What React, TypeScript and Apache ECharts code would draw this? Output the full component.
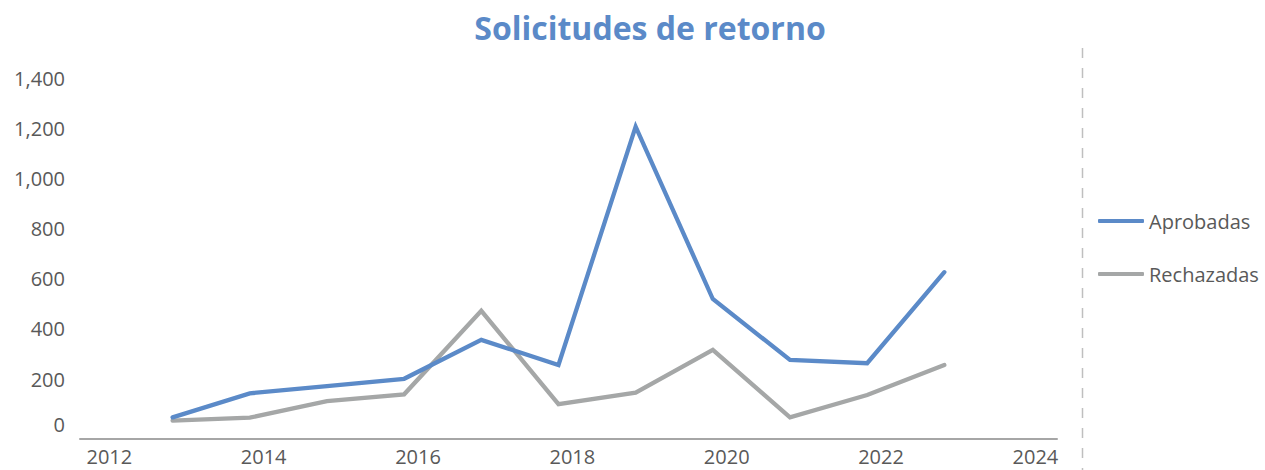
import React, { useEffect, useRef } from "react";
import * as echarts from "echarts";

const years = [2012.82, 2013.82, 2014.82, 2015.82, 2016.82, 2017.82, 2018.82, 2019.82, 2020.82, 2021.82, 2022.82];
const aprobadas = [47, 143, 172, 201, 356, 256, 1206, 519, 276, 263, 626];
const rechazadas = [34, 46, 112, 139, 472, 100, 146, 316, 47, 136, 256];
const xTickLabels = [2012, 2014, 2016, 2018, 2020, 2022, 2024];
const seriesNames = ["Aprobadas", "Rechazadas"];
const titleText = "Solicitudes de retorno";

const BLUE = "#5B8AC8";
const GRAY = "#A5A7A7";
const TEXT = "#595959";
const FONT = "'Open Sans', sans-serif";

export default function App() {
  const ref = useRef<HTMLDivElement>(null);
  useEffect(() => {
    if (!ref.current) return;
    const chart = echarts.init(ref.current, undefined, { renderer: "svg" });
    chart.setOption({
      animation: false,
      backgroundColor: "#ffffff",
      textStyle: { fontFamily: FONT },
      title: {
        text: titleText,
        left: 645,
        textAlign: "center",
        top: 6,
        textStyle: { fontFamily: FONT, fontSize: 32, fontWeight: "bold", color: BLUE },
      },
      legend: {
        orient: "vertical",
        left: 1093,
        top: 204,
        itemWidth: 46,
        itemHeight: 4,
        itemGap: 29,
        icon: "roundRect",
        textStyle: { fontFamily: FONT, fontSize: 20, color: TEXT, lineHeight: 24 },
        data: seriesNames,
      },
      grid: { left: 80, right: 208, top: 78, bottom: 40.8, containLabel: false },
      xAxis: {
        type: "value",
        min: 2011.62,
        max: 2024.28,
        offset: 9.3,
        splitLine: { show: false },
        axisTick: { show: false },
        axisLine: { show: true, onZero: false, lineStyle: { color: "#A6A6A6", width: 2 } },
        axisLabel: {
          customValues: xTickLabels,
          margin: 8,
          fontFamily: FONT,
          fontSize: 20,
          color: TEXT,
          formatter: (v: number) => String(Math.round(v)),
        },
      },
      yAxis: {
        type: "value",
        min: 0,
        max: 1400,
        interval: 200,
        splitLine: { show: false },
        axisTick: { show: false },
        axisLine: { show: false },
        axisLabel: {
          margin: 15,
          fontFamily: FONT,
          fontSize: 20,
          color: TEXT,
          formatter: (v: number) => (v === 0 ? "{z|0}" : v.toLocaleString("en-US")),
          rich: {
            z: { fontFamily: FONT, fontSize: 20, color: TEXT, padding: [0, 0, 9, 0] },
          },
        },
      },
      series: [
        {
          name: seriesNames[0],
          type: "line",
          data: years.map((x, i) => [x, aprobadas[i]]),
          showSymbol: false,
          symbol: "none",
          color: BLUE,
          lineStyle: { color: BLUE, width: 4.3, cap: "round", join: "miter" },
        },
        {
          name: seriesNames[1],
          type: "line",
          data: years.map((x, i) => [x, rechazadas[i]]),
          showSymbol: false,
          symbol: "none",
          color: GRAY,
          z: 1,
          lineStyle: { color: GRAY, width: 4.3, cap: "round", join: "miter" },
        },
      ],
      graphic: [
        {
          type: "line",
          shape: { x1: 1082.5, y1: 48, x2: 1082.5, y2: 470 },
          style: { stroke: "#BFBFBF", lineWidth: 1.5, lineDash: [10, 10] },
        },
      ],
    });
    return () => chart.dispose();
  }, []);
  return <div ref={ref} style={{ position: "fixed", left: 0, top: 0, width: 1265, height: 470 }} />;
}
